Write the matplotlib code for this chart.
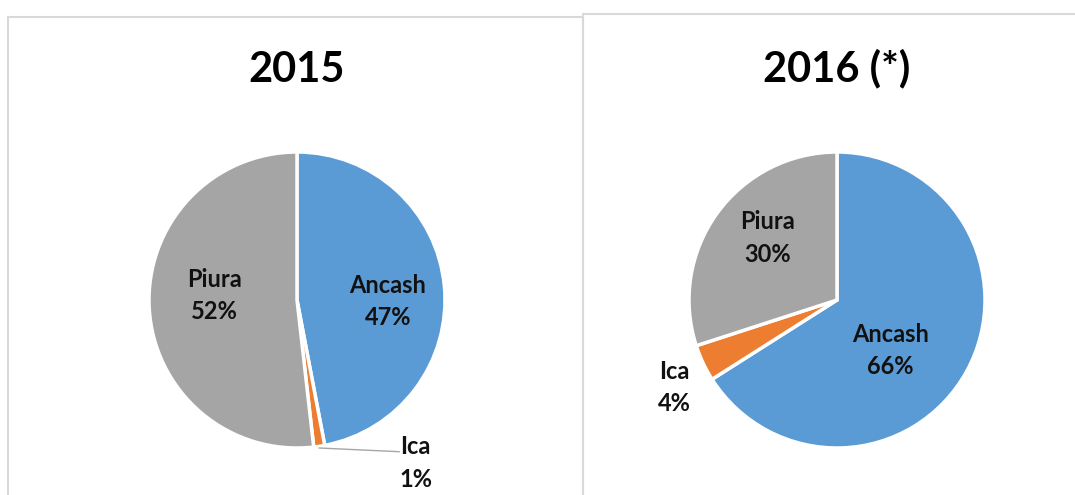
import matplotlib
matplotlib.use("Agg")
import matplotlib.pyplot as plt
from matplotlib.patches import Rectangle

plt.rcParams['font.family'] = ['Lato', 'DejaVu Sans']

categories = ["Ancash", "Ica", "Piura"]
values_2015 = [47, 1.2, 51.8]
labels_2015 = ["47%", "1%", "52%"]
values_2016 = [66, 4, 30]
labels_2016 = ["66%", "4%", "30%"]
colors = ["#5B9BD5", "#ED7D31", "#A5A5A5"]

W, H = 1075, 495
fig = plt.figure(figsize=(W / 100, H / 100), dpi=100)
fig.patch.set_facecolor("white")

# panel borders
fig.add_artist(Rectangle((8 / W, -0.1), (583 - 8) / W, 1.1 - 17 / H, transform=fig.transFigure,
                         fill=False, edgecolor="#D9D9D9", linewidth=1.5))
fig.add_artist(Rectangle((583 / W, -0.1), (1100 - 583) / W, 1.1 - 14 / H, transform=fig.transFigure,
                         fill=False, edgecolor="#D9D9D9", linewidth=1.5))


def pie_axes(cx, cy, r):
    return fig.add_axes([(cx - r) / W, (H - cy - r) / H, 2 * r / W, 2 * r / H])


def draw(ax, values):
    ax.pie(values, colors=colors, startangle=90, counterclock=False, radius=1,
           wedgeprops=dict(edgecolor="white", linewidth=2.5))
    ax.set_xlim(-1, 1)
    ax.set_ylim(-1, 1)
    ax.set_aspect("equal")
    ax.axis("off")


lab_kw = dict(fontsize=17, fontweight="bold", color="#111111", linespacing=1.5)

# 2015
r = 148
ax1 = pie_axes(297, 300, r)
draw(ax1, values_2015)
fig.text(297 / W, 1 - 70 / H, "2015", ha="center", va="center", fontsize=30, fontweight="bold")
ax1.text(0.615, -0.01, f"{categories[0]}\n{labels_2015[0]}", ha="center", va="center", **lab_kw)
ax1.text(-0.555, 0.03, f"{categories[2]}\n{labels_2015[2]}", ha="center", va="center", **lab_kw)
ax1.plot([0.15, 0.69], [-1.0, -1.025], color="#A6A6A6", linewidth=1, clip_on=False)
ax1.text(0.695, -1.10, f"{categories[1]}\n{labels_2015[1]}", ha="left", va="center",
         clip_on=False, **lab_kw)

# 2016
ax2 = pie_axes(837, 300, r)
draw(ax2, values_2016)
fig.text(837 / W, 1 - 68 / H, "2016 (*)", ha="center", va="center", fontsize=30, fontweight="bold")
ax2.text(0.36, -0.34, f"{categories[0]}\n{labels_2016[0]}", ha="center", va="center", **lab_kw)
ax2.text(-0.47, 0.42, f"{categories[2]}\n{labels_2016[2]}", ha="center", va="center", **lab_kw)
ax2.text(-1.10, -0.59, f"{categories[1]}\n{labels_2016[1]}", ha="center", va="center",
         clip_on=False, **lab_kw)

fig.savefig("out.png", dpi=100, facecolor="white")
